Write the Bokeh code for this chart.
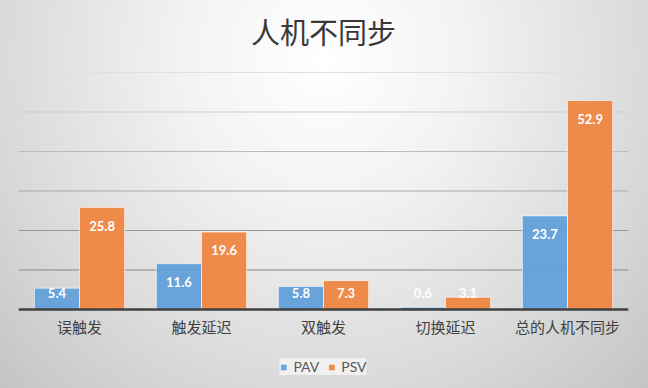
from bokeh.plotting import figure
from bokeh.models import ColumnDataSource, FactorRange, Range1d, Span, Legend, LegendItem, Label
from bokeh.transform import dodge
from bokeh.core.properties import value
from bokeh.embed import file_html
from bokeh.resources import INLINE
import numpy as np

# ---- data ----
categories = ["误触发", "触发延迟", "双触发", "切换延迟", "总的人机不同步"]
series = ["PAV", "PSV"]
pav = [5.4, 11.6, 5.8, 0.6, 23.7]
psv = [25.8, 19.6, 7.3, 3.1, 52.9]
y_ticks = [10, 20, 30, 40, 50, 60]
title_text = "人机不同步"

BLUE = "#63A0D8"
ORANGE = "#EE8744"
CJK = "Noto Sans CJK SC"
LAT = "Lato"

W, H = 648, 388
PX = 3.95            # pixels per value unit
BASE = 309           # baseline row in the picture
y_top = BASE / PX
y_bot = -(H - BASE) / PX

p = figure(width=W, height=H, x_range=FactorRange(*categories), y_range=Range1d(y_bot, y_top),
           output_backend="svg", toolbar_location=None,
           min_border_left=18, min_border_right=20, min_border_top=0, min_border_bottom=0)

p.styles = {"background-image": "radial-gradient(ellipse farthest-corner at 50% 15%, #ffffff 0%, #f3f3f3 30%, #dadada 70%, #c4c4c4 100%)"}
p.background_fill_alpha = 0
p.border_fill_alpha = 0
p.outline_line_color = None
p.xaxis.visible = False
p.yaxis.visible = False
p.xgrid.visible = False
p.ygrid.visible = False

# gridlines with a light-to-dark vertical shading
dark = np.array([0x85, 0x85, 0x85])
light = np.array([0xe0, 0xe0, 0xe0])
for t in y_ticks:
    f = (t - y_ticks[0]) / (y_ticks[-1] - y_ticks[0])
    c = (dark + (light - dark) * f).astype(int)
    p.add_layout(Span(location=t, dimension="width", line_color="#%02x%02x%02x" % tuple(c),
                      line_width=1, level="underlay"))

src = ColumnDataSource(dict(
    cat=categories, pav=pav, psv=psv,
    pav_ly=[max(v - 4.6, 4.1) for v in pav],
    psv_ly=[max(v - 4.6, 4.1) for v in psv],
    pav_t=["%.1f" % v for v in pav],
    psv_t=["%.1f" % v for v in psv],
    zero=[0] * len(categories),
))

bw = 0.37
r1 = p.vbar(x=dodge("cat", -bw / 2, range=p.x_range), top="pav", width=bw, source=src,
            fill_color=BLUE, fill_alpha=0.96, line_color="white", line_alpha=0.6, line_width=1)
r2 = p.vbar(x=dodge("cat", bw / 2, range=p.x_range), top="psv", width=bw, source=src,
            fill_color=ORANGE, fill_alpha=0.96, line_color="white", line_alpha=0.6, line_width=1)

for xo, yc, tc in [(-bw / 2, "pav_ly", "pav_t"), (bw / 2, "psv_ly", "psv_t")]:
    p.text(x=dodge("cat", xo, range=p.x_range), y=yc, text=tc, source=src,
           text_color="white", text_font=value(LAT), text_font_style="bold",
           text_font_size="13px", text_align="center", text_baseline="middle")

# baseline (category axis line)
p.add_layout(Span(location=0, dimension="width", line_color="#404040", line_width=2.5))

# category labels
p.text(x="cat", y="zero", text="cat", source=src, y_offset=17,
       text_color="#404040", text_font=value(CJK), text_font_size="15px",
       text_align="center", text_baseline="middle")

legend = Legend(items=[LegendItem(label=series[0], renderers=[r1]),
                       LegendItem(label=series[1], renderers=[r2])],
                orientation="horizontal", location="bottom_center",
                glyph_width=8, glyph_height=8, label_text_font=LAT,
                label_text_font_size="14px", label_text_color="#595959",
                label_standoff=6, spacing=8, padding=6, margin=13,
                background_fill_color="#f2f2f2", background_fill_alpha=0.9,
                border_line_color=None)
p.add_layout(legend, "center")

# title, centred over the middle of the category axis
p.add_layout(Label(x=len(categories) / 2, y=(BASE - 30) / PX, text=title_text,
                   text_font=CJK, text_font_size="29px", text_color="#383838",
                   text_align="center", text_baseline="middle"))

open("out.html", "w").write(file_html(p, INLINE))
